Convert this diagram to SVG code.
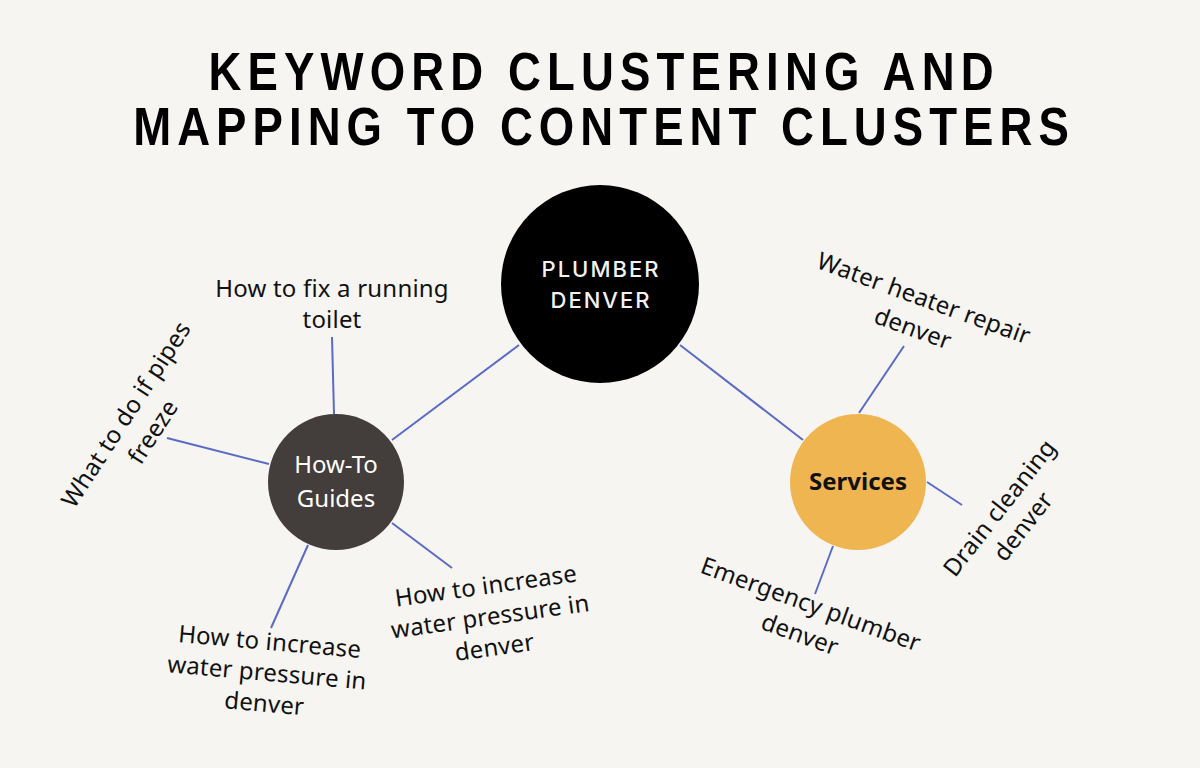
<svg xmlns="http://www.w3.org/2000/svg" width="1200" height="768" viewBox="0 0 1200 768">
<style>
.title{font-family:"Liberation Sans",Arial,sans-serif;font-weight:bold;font-size:53px;fill:#000;text-anchor:middle}
.lbl{font-family:"Noto Sans","Open Sans",sans-serif;font-size:24px;letter-spacing:0.2px;fill:#111;text-anchor:middle}
.conn{stroke:#5a6bc6;stroke-width:2;fill:none;stroke-linecap:butt}
.nodeTxt{font-family:"Noto Sans","Open Sans",sans-serif;font-size:24px;text-anchor:middle}
.hub{font-family:Inter,"Liberation Sans",sans-serif;font-weight:500;font-size:22px;letter-spacing:2px;fill:#f2f2f2;text-anchor:middle}
</style>
<rect width="1200" height="768" fill="#f6f5f1"/>
<g id="title" transform="translate(601,0) scale(0.86,1)">
<text class="title" x="0" y="90" textLength="913" lengthAdjust="spacing">KEYWORD CLUSTERING AND</text>
<text class="title" x="0" y="145" textLength="1088" lengthAdjust="spacing">MAPPING TO CONTENT CLUSTERS</text>
</g>
<g id="connectors">
<line class="conn" x1="519" y1="345" x2="392" y2="440"/>
<line class="conn" x1="680" y1="345" x2="803" y2="440"/>
<line class="conn" x1="332" y1="337" x2="334" y2="414"/>
<line class="conn" x1="167" y1="438" x2="269" y2="464"/>
<line class="conn" x1="308" y1="545" x2="271" y2="628"/>
<line class="conn" x1="392" y1="523" x2="452" y2="568"/>
<line class="conn" x1="904" y1="346" x2="859" y2="413"/>
<line class="conn" x1="927" y1="482" x2="962" y2="505"/>
<line class="conn" x1="833" y1="546" x2="815" y2="594"/>
</g>
<g id="node-plumber-denver">
<circle cx="600" cy="284" r="99" fill="#000"/>
<text class="hub" x="601" y="277">PLUMBER</text>
<text class="hub" x="601" y="308">DENVER</text>
</g>
<g id="node-howto">
<circle cx="336" cy="482" r="68" fill="#433d3b"/>
<text class="nodeTxt" x="336" y="473" fill="#fff">How-To</text>
<text class="nodeTxt" x="336" y="507" fill="#fff">Guides</text>
</g>
<g id="node-services">
<circle cx="858" cy="482" r="68" fill="#efb551"/>
<text class="nodeTxt" x="858" y="490" fill="#111" font-weight="bold">Services</text>
</g>
<g id="node-toilet">
<text class="lbl" x="332" y="297">How to fix a running</text>
<text class="lbl" x="332" y="328">toilet</text>
</g>
<g id="node-freeze" transform="translate(133,419) rotate(-57)">
<text class="lbl" x="0" y="0">What to do if pipes</text>
<text class="lbl" x="0" y="32">freeze</text>
</g>
<g id="node-pressure-left" transform="translate(269,650) rotate(5)">
<text class="lbl" x="0" y="0">How to increase</text>
<text class="lbl" x="0" y="31">water pressure in</text>
<text class="lbl" x="0" y="62">denver</text>
</g>
<g id="node-pressure-right" transform="translate(487,594) rotate(-8)">
<text class="lbl" x="0" y="0">How to increase</text>
<text class="lbl" x="0" y="31">water pressure in</text>
<text class="lbl" x="0" y="62">denver</text>
</g>
<g id="node-water-heater" transform="translate(921,306) rotate(20)">
<text class="lbl" x="0" y="0">Water heater repair</text>
<text class="lbl" x="0" y="32">denver</text>
</g>
<g id="node-drain" transform="translate(1006,513) rotate(-52)">
<text class="lbl" x="0" y="0">Drain cleaning</text>
<text class="lbl" x="0" y="30">denver</text>
</g>
<g id="node-emergency" transform="translate(808,612) rotate(20)">
<text class="lbl" x="0" y="0">Emergency plumber</text>
<text class="lbl" x="0" y="32">denver</text>
</g>
</svg>
